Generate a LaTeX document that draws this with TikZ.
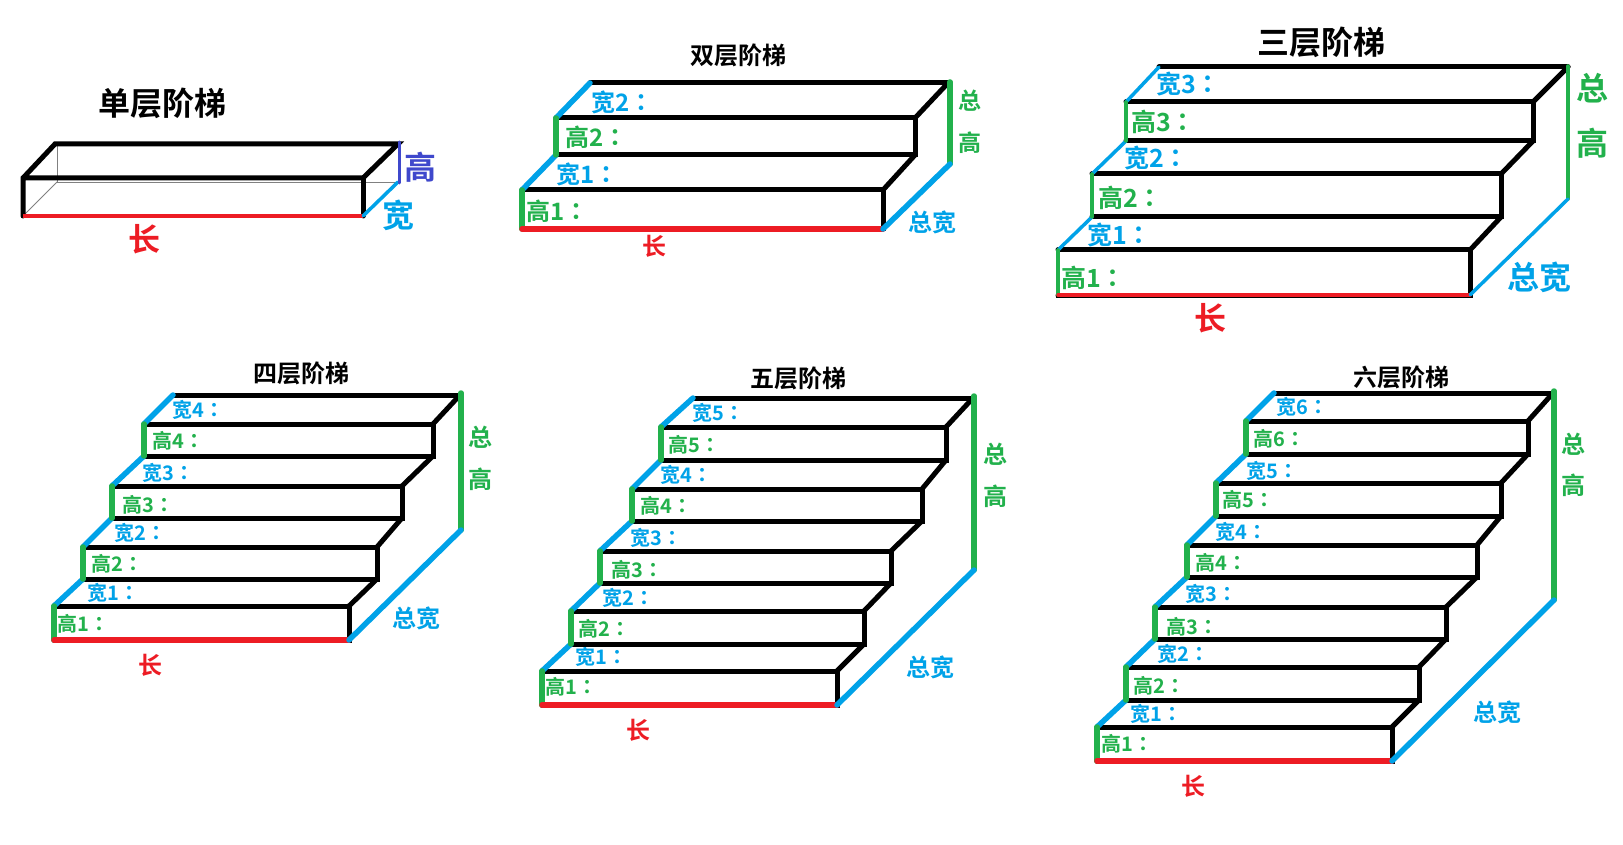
\documentclass[tikz,border=0pt]{standalone}
\usepackage{fontspec}
\newfontfamily\cjk{Noto Sans CJK SC}[BoldFont={Noto Sans CJK SC Bold}]
\newfontfamily\cjkc{Noto Sans CJK TC}[BoldFont={Noto Sans CJK TC Bold}]
\definecolor{cgreen}{HTML}{22B14C}
\definecolor{cblue}{HTML}{00A2E8}
\definecolor{cred}{HTML}{ED1C24}
\definecolor{cindigo}{HTML}{3F48CC}
\tikzset{
  lab/.style={font=\cjk\bfseries\fontsize{#1}{#1}\selectfont,inner sep=0pt},
  wlab/.style={lab=#1,text=cblue},
  hlab/.style={lab=#1,text=cgreen},
  llab/.style={lab=#1,text=cred},
  ink/.style={black,line width=5pt,line cap=round},
  hue/.style={line width=#1,line cap=round},
  hidden/.style={gray,line width=0.8pt}
}
\newcommand{\stair}[9]{%
  \foreach \n/\xl/\yt/\yb/\xr/\wx/\wy/\hx/\hy in {#4}{%
    \coordinate (#1TL\n) at (\xl,\yt);
    \coordinate (#1BL\n) at (\xl,\yb);
    \coordinate (#1TR\n) at (\xr,\yt);
    \coordinate (#1BR\n) at (\xr,\yb);
    \draw[ink] (#1TL\n) -- (#1TR\n) -- (#1BR\n) -- (#1BL\n);
    \node[wlab=#2,anchor=west] (#1w\n) at (\wx,\wy) {宽\n{\cjkc ：}};
    \node[hlab=#2,anchor=west] (#1h\n) at (\hx,\hy) {高\n{\cjkc ：}};
  }%
  \pgfmathtruncatemacro{\m}{#5+1}%
  \coordinate (#1BL\m) at (#7,#6);
  \coordinate (#1BR\m) at (#8,#6);
  \draw[ink] (#1BL\m) -- (#1BR\m);
  \foreach \n in {1,...,#5}{%
    \pgfmathtruncatemacro{\k}{\n+1}%
    \draw[ink] (#1TR\n) -- (#1BR\k);
    \draw[hue=#3,cblue] (#1TL\n) -- (#1BL\k);
    \draw[hue=#3,cgreen] (#1TL\n) -- (#1BL\n);
  }%
  \draw[hue=#3,cred] (#1BL1) -- (#1BR1);
  \stairtotal{#1}{#3}%
}
\newcommand{\stairtotal}[2]{\gdef\lastp{#1}\gdef\lastw{#2}}
\newcommand{\totals}[3]{%
  \coordinate (\lastp GT) at (#1,#2);
  \coordinate (\lastp GB) at (#1,#3);
  \draw[hue=\lastw,cgreen] (\lastp GT) -- (\lastp GB);
  \draw[hue=\lastw,cblue] (\lastp BR1) -- (\lastp GB);
}
\begin{document}
\begin{tikzpicture}[x=1pt,y=-1pt]
\useasboundingbox (0,0) rectangle (1623,845);
\fill[white] (0,0) rectangle (1623,845);

% single
\coordinate (aFTL) at (23,178);
\coordinate (aFTR) at (363,178);
\coordinate (aFBL) at (23,216);
\coordinate (aFBR) at (363,216);
\coordinate (aBTL) at (55,144);
\coordinate (aBTR) at (398,144);
\coordinate (aBBL) at (57,182);
\coordinate (aBBR) at (398,182);
\draw[hidden] (57,144) -- (aBBL) -- (aBBR);
\draw[hidden] (aBBL) -- (aFBL);
\draw[ink] (aFBL) -- (aFTL) -- (aBTL) -- (aBTR) -- (aFTR) -- (aFTL);
\draw[ink] (aFTR) -- (aFBR);
\draw[black,line width=4pt] (21,216.5) -- (365,216.5);
\draw[hue=3.2pt,cred,line cap=butt] (aFBL) -- (aFBR);
\draw[hue=3.5pt,cblue] (aFBR) -- (aBBR);
\draw[hue=3pt,cindigo] (399.5,142) -- (399.5,183);
\node[lab=32] (aT) at (162,103) {单层阶梯};
\node[lab=32,text=cindigo] (aH) at (420,167) {高};
\node[lab=32,text=cblue] (aW) at (398,215) {宽};
\node[llab=32] (aL) at (144,239) {长};

% two
\stair{b}{24}{5.5pt}{1/522/190/229/883/556/174/526/211,2/556/118/155/915/591/102/565/137}{2}{83}{590}{948}{}
\totals{950}{82}{164}
\node[lab=24] (bT) at (738,55) {双层阶梯};
\node[wlab=24] (bW) at (932,222) {总宽};
\node[hlab=23] (bZ) at (970,101) {总};
\node[hlab=23] (bG) at (970,143) {高};
\node[llab=24] (bL) at (654,246) {长};

% three
\stair{c}{25}{3.5pt}{1/1058/250/295/1470/1087/235/1061/278,2/1092/174/217/1501/1124/158/1098/198,3/1126/102/141/1533/1156/84/1131/122}{3}{67}{1159}{1568}{}
\draw[black,line width=1pt] (1056,297) -- (1472,297);
\totals{1568}{66}{199}
\node[lab=32] (cT) at (1321,42) {三层阶梯};
\node[wlab=32] (cW) at (1539,277) {总宽};
\node[hlab=32] (cZ) at (1592,88) {总};
\node[hlab=32] (cG) at (1592,143) {高};
\node[llab=32] (cL) at (1210,318) {长};

% four
\stair{d}{20}{5.5pt}{1/54/606/640/349/87/593/57/624,2/83/547/579/377/114/533/91/564,3/112/486/518/402/142/473/122/505,4/144/424/456/433/172/410/152/441}{4}{395}{173}{460}{}
\totals{461}{393}{530}
\node[lab=24] (dT) at (301,373) {四层阶梯};
\node[wlab=24] (dW) at (416,618) {总宽};
\node[hlab=24] (dZ) at (480,437) {总};
\node[hlab=24] (dG) at (480,479) {高};
\node[llab=24] (dL) at (150,665) {长};

% five
\stair{e}{20}{5.5pt}{1/542/671/705/837/575/657/545/687,2/571/611/644/864/602/598/578/629,3/600/551/583/891/630/538/611/570,4/632/489/521/922/660/475/640/506,5/661/427/460/946/692/413/668/445}{5}{398}{693}{973}{}
\totals{974}{396}{570}
\node[lab=24] (eT) at (798,378) {五层阶梯};
\node[wlab=24] (eW) at (930,667) {总宽};
\node[hlab=24] (eZ) at (995,454) {总};
\node[hlab=24] (eG) at (995,496) {高};
\node[llab=24] (eL) at (638,730) {长};

% six
\stair{f}{20}{5.5pt}{1/1097/727/761/1392/1130/714/1101/744,2/1126/667/700/1419/1157/654/1133/686,3/1155/607/639/1446/1185/594/1166/627,4/1187/545/577/1477/1215/532/1195/563,5/1216/483/516/1501/1246/471/1222/500,6/1246/421/454/1528/1276/407/1253/439}{6}{393}{1274}{1553}{}
\totals{1554}{391}{600}
\node[lab=24] (fT) at (1401,377) {六层阶梯};
\node[wlab=24] (fW) at (1497,712) {总宽};
\node[hlab=24] (fZ) at (1573,444) {总};
\node[hlab=24] (fG) at (1573,485) {高};
\node[llab=24] (fL) at (1193,786) {长};
\end{tikzpicture}
\end{document}
